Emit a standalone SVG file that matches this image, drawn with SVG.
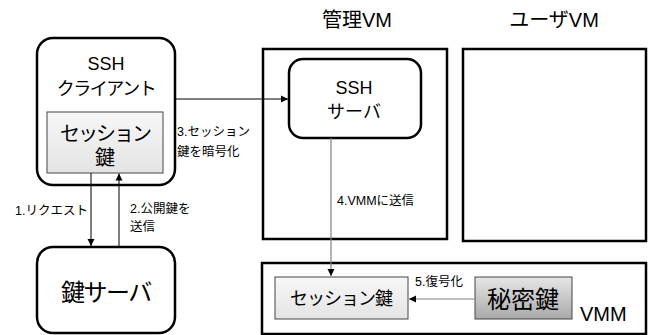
<svg xmlns="http://www.w3.org/2000/svg" width="650" height="335" viewBox="0 0 650 335">
<defs>
<linearGradient id="gLight" x1="0" y1="0" x2="0" y2="1"><stop offset="0" stop-color="#f7f7f7"/><stop offset="1" stop-color="#e4e4e4"/></linearGradient>
<linearGradient id="gDark" x1="0" y1="0" x2="0" y2="1"><stop offset="0" stop-color="#e6e6e6"/><stop offset="1" stop-color="#a9a9a9"/></linearGradient>
<marker id="ah" markerWidth="8" markerHeight="8" refX="7" refY="4" orient="auto" markerUnits="userSpaceOnUse"><path d="M0,0.5 L7,4 L0,7.5 Z" fill="#000"/></marker>
</defs>
<style>
text{font-family:"Liberation Sans","Noto Sans CJK JP",sans-serif;fill:#000}
.node{fill:#fff;stroke:#000;stroke-width:2.5}
.box{fill:#fff;stroke:#000;stroke-width:2.5}
.key{fill:url(#gLight);stroke:#444;stroke-width:1}
.skey{fill:url(#gDark);stroke:#444;stroke-width:1}
.conn{fill:none;stroke:#000;stroke-width:1;marker-end:url(#ah)}
.conng{fill:none;stroke:#808080;stroke-width:1.2;marker-end:url(#ah)}
.lbl{font-size:12.5px}
.mid{text-anchor:middle}
</style>
<g id="mgmt-vm">
<rect class="box" x="263" y="49" width="184" height="190"/>
<text class="mid" x="357" y="27" font-size="20">管理VM</text>
</g>
<g id="user-vm">
<rect class="box" x="463" y="49" width="183" height="192"/>
<text class="mid" x="554" y="27" font-size="20">ユーザVM</text>
</g>
<g id="vmm">
<rect class="box" x="262" y="263" width="384" height="71"/>
<text x="580" y="321" font-size="20">VMM</text>
</g>
<g id="ssh-client">
<rect class="node" x="37" y="38" width="138" height="147" rx="16"/>
<text class="mid" x="106" y="70" font-size="18">SSH</text>
<text class="mid" x="106" y="95" font-size="18" letter-spacing="-1.5">クライアント</text>
</g>
<g id="client-session-key">
<rect class="key" x="47" y="112" width="116" height="61"/>
<text class="mid" x="105" y="141" font-size="20" letter-spacing="-2">セッション</text>
<text class="mid" x="105" y="165" font-size="20">鍵</text>
</g>
<g id="key-server">
<rect class="node" x="37" y="247" width="138" height="86" rx="16"/>
<text class="mid" x="106" y="301" font-size="24" letter-spacing="-1.5">鍵サーバ</text>
</g>
<g id="ssh-server">
<rect class="node" x="289" y="59" width="132" height="79" rx="14"/>
<text class="mid" x="354" y="94" font-size="18">SSH</text>
<text class="mid" x="354" y="118" font-size="18">サーバ</text>
</g>
<g id="vmm-session-key">
<rect class="key" x="275" y="277" width="133" height="42"/>
<text class="mid" x="341" y="305" font-size="18" letter-spacing="-1">セッション鍵</text>
</g>
<g id="secret-key">
<rect class="skey" x="475" y="277" width="97" height="42"/>
<text class="mid" x="523" y="308" font-size="24">秘密鍵</text>
</g>
<g id="connectors">
<line class="conn" x1="91" y1="173" x2="91" y2="246"/>
<line class="conn" x1="119" y1="246" x2="119" y2="173.5"/>
<line class="conn" x1="175" y1="99" x2="288" y2="99"/>
<line class="conng" x1="331" y1="138" x2="331" y2="276"/>
<line class="conng" x1="475" y1="299" x2="409" y2="299"/>
<text class="lbl" x="15" y="215">1.リクエスト</text>
<text class="lbl" x="130" y="213">2.公開鍵を</text>
<text class="lbl" x="130" y="231">送信</text>
<text class="lbl" x="177" y="136">3.セッション</text>
<text class="lbl" x="177" y="156">鍵を暗号化</text>
<text class="lbl" x="337" y="205">4.VMMに送信</text>
<text class="lbl" x="415" y="286">5.復号化</text>
</g>
</svg>
